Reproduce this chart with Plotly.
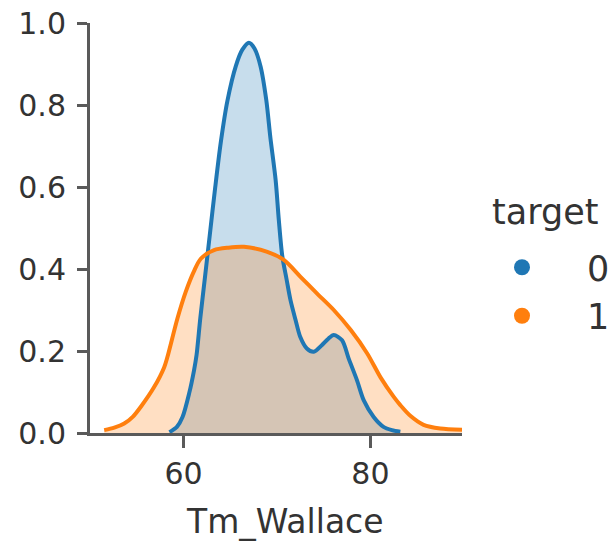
import plotly.graph_objects as go

# KDE curve for target = 0 (blue)
x0 = [58.5, 59.3, 59.9, 60.6, 61.13, 61.4, 61.8, 62.3, 62.8, 63.4, 64.0, 64.7, 65.6, 66.3,
      67.0, 67.6, 68.25, 68.86, 69.3, 69.86, 70.2, 70.57, 71.03, 71.45, 72.0, 72.5, 73.2,
      73.94, 74.8, 75.5, 76.08, 76.97, 77.67, 78.56, 79.28, 80.35, 81.4, 82.3, 83.2]
y0 = [0.002, 0.015, 0.039, 0.096, 0.153, 0.19, 0.28, 0.38, 0.48, 0.60, 0.71, 0.81, 0.895, 0.935,
      0.952, 0.938, 0.894, 0.812, 0.72, 0.617, 0.52, 0.432, 0.375, 0.324, 0.275, 0.234, 0.206,
      0.198, 0.214, 0.230, 0.239, 0.226, 0.182, 0.129, 0.080, 0.039, 0.015, 0.007, 0.003]

# KDE curve for target = 1 (orange)
x1 = [51.52, 52.6, 53.66, 54.6, 55.44, 56.86, 57.93, 58.29, 59.36, 60.25, 61.13, 61.85, 63.27,
      64.8, 66.47, 68.97, 70.74, 72.52, 74.3, 76.08, 77.9, 79.66, 81.1, 82.5, 83.2, 84.27,
      85.69, 87.47, 89.8]
y1 = [0.007, 0.013, 0.023, 0.040, 0.064, 0.112, 0.160, 0.186, 0.280, 0.345, 0.395, 0.425, 0.446,
      0.452, 0.454, 0.442, 0.422, 0.381, 0.34, 0.30, 0.251, 0.194, 0.135, 0.088, 0.068, 0.042,
      0.020, 0.011, 0.008]

x_ticks = [60, 80]
y_ticks = [0.0, 0.2, 0.4, 0.6, 0.8, 1.0]
y_tick_labels = ["0.0", "0.2", "0.4", "0.6", "0.8", "1.0"]
x_label = "Tm_Wallace"
legend_title = "target"
classes = ["0", "1"]

BLUE = "#1f77b4"
ORANGE = "#ff7f0e"
FILLS = ["rgba(31,119,180,0.25)", "rgba(255,127,14,0.25)"]
TEXT = "#333333"
AXIS = "#5a5a5a"
FONT = "DejaVu Sans"

series = [(x0, y0, BLUE, FILLS[0]), (x1, y1, ORANGE, FILLS[1])]

fig = go.Figure()
# shaded areas first (below all lines, as in the reference)
for xs, ys, col, fc in series:
    fig.add_trace(go.Scatter(x=xs, y=ys, mode="lines", fill="tozeroy", fillcolor=fc,
                             line=dict(color="rgba(0,0,0,0)", width=0, shape="spline", smoothing=0.8),
                             showlegend=False, hoverinfo="skip"))
# then the KDE lines
for xs, ys, col, fc in series:
    fig.add_trace(go.Scatter(x=xs, y=ys, mode="lines",
                             line=dict(color=col, width=4, shape="spline", smoothing=0.8),
                             showlegend=False, hoverinfo="skip"))

# legend-only marker entries
for name, col in zip(classes, [BLUE, ORANGE]):
    fig.add_trace(go.Scatter(x=[None], y=[None], mode="markers", name=name,
                             marker=dict(color=col, size=17), showlegend=True))

L, T = 90, 23
W, H = 372, 410

fig.update_layout(
    width=609, height=544,
    margin=dict(l=L, r=609 - L - W, t=T, b=544 - T - H, pad=0, autoexpand=False),
    plot_bgcolor="white", paper_bgcolor="white",
    font=dict(family=FONT, color=TEXT, size=30),
    showlegend=True,
    legend=dict(x=(457 - L) / W, xanchor="left", y=(T + H - 238) / H, yanchor="top",
                font=dict(size=35, family=FONT, color=TEXT), itemwidth=120,
                bgcolor="rgba(0,0,0,0)", tracegroupgap=0),
    xaxis=dict(range=[50, 89.8], tickvals=x_ticks, ticktext=[str(v) for v in x_ticks],
               showgrid=False, zeroline=False, showline=True, linecolor=AXIS, linewidth=3,
               ticks="outside", ticklen=12, tickwidth=2.5, tickcolor=AXIS,
               tickfont=dict(size=30, family=FONT, color=TEXT)),
    yaxis=dict(range=[0, 1.0], tickvals=y_ticks, ticktext=y_tick_labels,
               showgrid=False, zeroline=False, showline=True, linecolor=AXIS, linewidth=3,
               ticks="outside", ticklen=10, tickwidth=2.5, tickcolor=AXIS,
               tickfont=dict(size=30, family=FONT, color=TEXT), ticklabelstandoff=5),
    annotations=[
        dict(text=x_label, xref="paper", yref="paper", x=(285 - L) / W, y=(T + H - 521) / H,
             xanchor="center", yanchor="middle", showarrow=False,
             font=dict(size=33, family=FONT, color=TEXT)),
        dict(text=legend_title, xref="paper", yref="paper", x=(490 - L) / W, y=(T + H - 212) / H,
             xanchor="left", yanchor="middle", showarrow=False,
             font=dict(size=35, family=FONT, color=TEXT)),
    ],
)

fig.write_html("out.html")
